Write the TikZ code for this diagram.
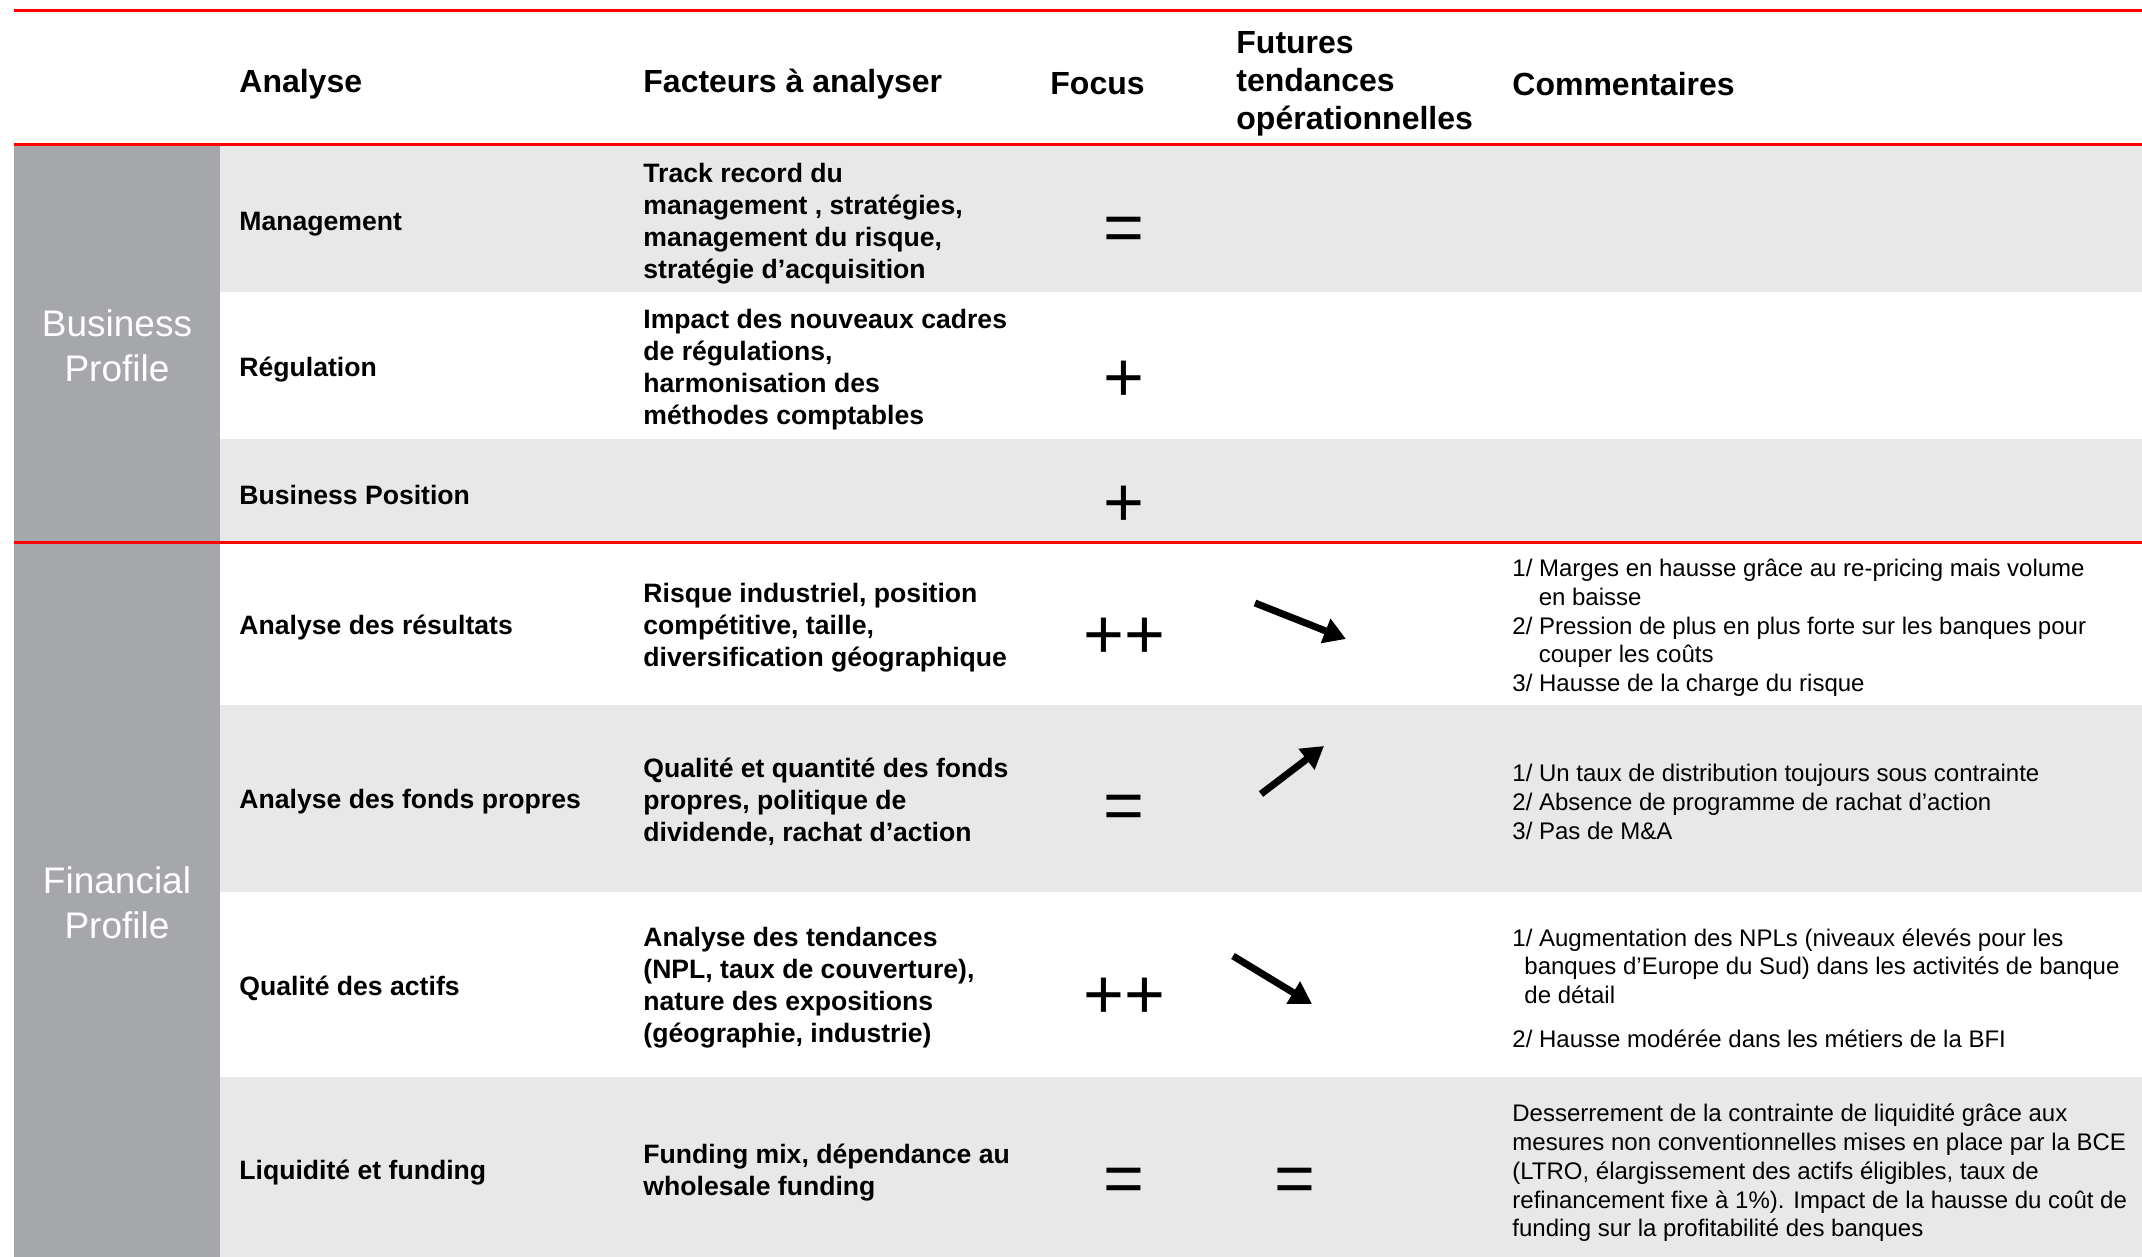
\documentclass[tikz,border=0pt]{standalone}
\usepackage{fontspec}
\setmainfont{Liberation Sans}
\usetikzlibrary{arrows.meta}

\definecolor{rouge}{RGB}{255,0,0}
\definecolor{grisclair}{RGB}{232,232,232}
\definecolor{grisfonce}{RGB}{166,167,170}

\newcommand{\retrait}{\hspace*{1.1em}}

\begin{document}
\begin{tikzpicture}[
			x=0.5pt, y=-0.5pt,
			entete/.style={anchor=west, inner sep=0pt, yshift=-1.5pt, align=left, font=\fontsize{16}{19}\selectfont\bfseries},
			ligne/.style={anchor=west, inner sep=0pt, yshift=-2pt, align=left, font=\fontsize{13.3}{16}\selectfont\bfseries},
			commentaire/.style={anchor=west, inner sep=0pt, yshift=-2pt, align=left, font=\fontsize{12}{14.35}\selectfont},
			profil/.style={align=center, text=white, inner sep=0pt, yshift=-1.5pt, font=\fontsize{18.5}{22.5}\selectfont},
			symbole/.style={inner sep=0pt, yshift=-2.5pt, font=\fontsize{35}{40}\selectfont},
			tendance/.style={line width=3.5pt, -{Triangle[length=11pt, width=12.5pt]}},
			filet/.style={draw=rouge, line width=1.5pt},
			]
			
			\useasboundingbox (0,0) rectangle (2142,1257);
			
			% Fonds des lignes
			\fill[grisclair] (220,145) rectangle (2142,292);
			\fill[grisclair] (220,439) rectangle (2142,542);
			\fill[grisclair] (220,705) rectangle (2142,892);
			\fill[grisclair] (220,1077) rectangle (2142,1257);
			\fill[grisfonce] (14,145) rectangle (220,1257);
			
			% Filets rouges
			\draw[filet] (14,11) -- (2142,11);
			\draw[filet] (14,145) -- (2142,145);
			\draw[filet] (14,542) -- (2142,542);
			
			% En-tete
			\node[entete] (hAnalyse) at (239,81) {Analyse};
			\node[entete] (hFacteurs) at (643,81) {Facteurs à analyser};
			\node[entete] (hFocus) at (1050,81) {Focus};
			\node[entete] (hFutures) at (1236,81) {Futures\\tendances\\opérationnelles};
			\node[entete] (hComment) at (1512,81) {Commentaires};
			
			% Profils
			\node[profil] (Business) at (117,343) {Business\\Profile};
			\node[profil] (Financial) at (117,900) {Financial\\Profile};
			
			% Business Profile
			\node[ligne] (Management) at (239,220) {Management};
			\node[ligne] (fManagement) at (643,220) {Track record du\\management , stratégies,\\management du risque,\\stratégie d’acquisition};
			\node[symbole] (sManagement) at (1124,229) {=};
			
			\node[ligne] (Regulation) at (239,366) {Régulation};
			\node[ligne] (fRegulation) at (643,366) {Impact des nouveaux cadres\\de régulations,\\harmonisation des\\méthodes comptables};
			\node[symbole] (sRegulation) at (1124,376) {+};
			
			\node[ligne] (Position) at (239,491) {Business Position};
			\node[symbole] (sPosition) at (1124,501) {+};
			
			% Financial Profile
			\node[ligne] (Resultats) at (239,624) {Analyse des résultats};
			\node[ligne] (fResultats) at (643,624) {Risque industriel, position\\compétitive, taille,\\diversification géographique};
			\node[symbole] (sResultats) at (1124,633) {++};
			\coordinate (tResultats) at (1255,603);
			\coordinate (pResultats) at (1346,639);
			\node[commentaire] (cResultats) at (1512,624) {1/ Marges en hausse grâce au re-pricing mais volume\\\retrait en baisse\\2/ Pression de plus en plus forte sur les banques pour\\\retrait couper les coûts\\3/ Hausse de la charge du risque};
			
			\node[ligne] (Fonds) at (239,798) {Analyse des fonds propres};
			\node[ligne] (fFonds) at (643,798) {Qualité et quantité des fonds\\propres, politique de\\dividende, rachat d’action};
			\node[symbole] (sFonds) at (1124,807) {=};
			\coordinate (tFonds) at (1261,794);
			\coordinate (pFonds) at (1324,746);
			\node[commentaire] (cFonds) at (1512,798) {1/ Un taux de distribution toujours sous contrainte\\2/ Absence de programme de rachat d’action\\3/ Pas de M\&A};
			
			\node[ligne] (Actifs) at (239,984) {Qualité des actifs};
			\node[ligne] (fActifs) at (643,984) {Analyse des tendances\\(NPL, taux de couverture),\\nature des expositions\\(géographie, industrie)};
			\node[symbole] (sActifs) at (1124,993) {++};
			\coordinate (tActifs) at (1233,956);
			\coordinate (pActifs) at (1312,1004);
			\node[commentaire] (cActifs) at (1512,984) {1/ Augmentation des NPLs (niveaux élevés pour les\\\hspace*{0.5em}banques d’Europe du Sud) dans les activités de banque\\\hspace*{0.5em}de détail\\[7.5pt]2/ Hausse modérée dans les métiers de la BFI};
			
			\node[ligne] (Liquidite) at (239,1169) {Liquidité et funding};
			\node[ligne] (fLiquidite) at (643,1169) {Funding mix, dépendance au\\wholesale funding};
			\node[symbole] (sLiquidite) at (1124,1180) {=};
			\node[symbole] (vLiquidite) at (1295,1180) {=};
			\node[commentaire] (cLiquidite) at (1512,1169) {Desserrement de la contrainte de liquidité grâce aux\\mesures non conventionnelles mises en place par la BCE\\(LTRO, élargissement des actifs éligibles, taux de\\refinancement fixe à 1\%). Impact de la hausse du coût de\\funding sur la profitabilité des banques};
			
			% Tendances
			\draw[tendance] (tResultats) -- (pResultats);
			\draw[tendance] (tFonds) -- (pFonds);
			\draw[tendance] (tActifs) -- (pActifs);
			
		\end{tikzpicture}
\end{document}
